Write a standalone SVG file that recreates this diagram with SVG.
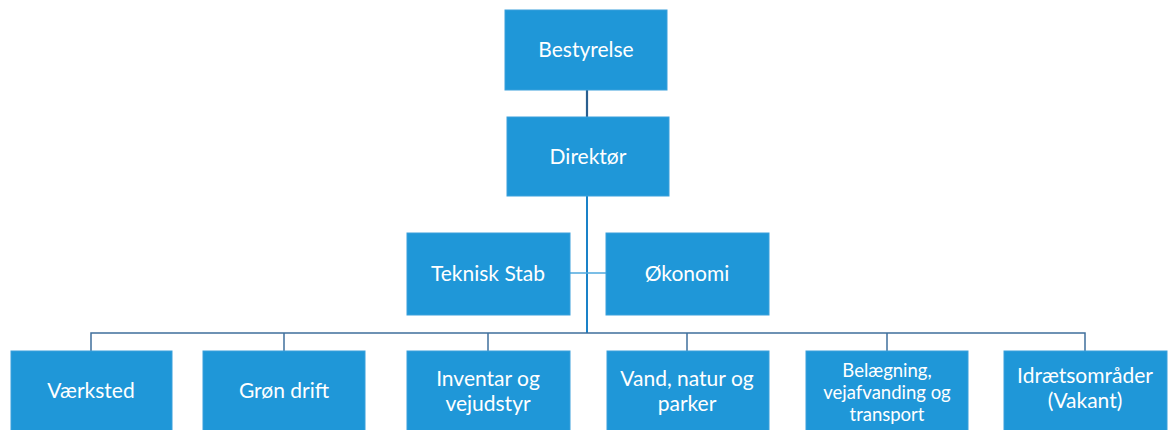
<svg xmlns="http://www.w3.org/2000/svg" width="1168" height="430" viewBox="0 0 1168 430">
<style>
.box{fill:#1f97d8;stroke:#3aa0dc;stroke-width:1}
.t{font-family:Lato,"Open Sans","Liberation Sans",sans-serif;font-size:21px;fill:#ffffff;text-anchor:middle}
.s{font-size:18.5px}
.bus{stroke:#3f6f9c;stroke-width:1.5;fill:none}
.main{stroke:#1a82c8;stroke-width:2;fill:none}
.side{stroke:#4fa8de;stroke-width:1.5;fill:none}
</style>
<rect width="1168" height="430" fill="#ffffff"/>
<g id="connectors">
<line class="bus" x1="587" y1="90" x2="587" y2="117" style="stroke:#2a5f8f;stroke-width:2.2"/>
<line class="main" x1="587" y1="196" x2="587" y2="333"/>
<line class="side" x1="570" y1="273" x2="606" y2="273"/>
<polyline class="bus" points="91,351 91,333 1085,333 1085,351"/>
<line class="bus" x1="284" y1="333" x2="284" y2="351"/>
<line class="bus" x1="488" y1="333" x2="488" y2="351"/>
<line class="bus" x1="687" y1="333" x2="687" y2="351"/>
<line class="bus" x1="887" y1="333" x2="887" y2="351"/>
</g>
<g id="bestyrelse"><rect class="box" x="505" y="10" width="162" height="80"/><text class="t" x="586" y="57">Bestyrelse</text></g>
<g id="direktor"><rect class="box" x="507" y="117" width="162" height="79"/><text class="t" x="588" y="164">Direktør</text></g>
<g id="teknisk-stab"><rect class="box" x="407" y="233" width="163" height="82"/><text class="t" x="488" y="281">Teknisk Stab</text></g>
<g id="okonomi"><rect class="box" x="606" y="233" width="163" height="82"/><text class="t" x="687" y="281">Økonomi</text></g>
<g id="vaerksted"><rect class="box" x="11" y="351" width="161" height="85"/><text class="t" x="91" y="398">Værksted</text></g>
<g id="gron-drift"><rect class="box" x="203" y="351" width="162" height="85"/><text class="t" x="284" y="398">Grøn drift</text></g>
<g id="inventar"><rect class="box" x="407" y="351" width="163" height="85"/><text class="t" x="488" y="386">Inventar og</text><text class="t" x="488" y="411">vejudstyr</text></g>
<g id="vand"><rect class="box" x="607" y="351" width="162" height="85"/><text class="t" x="687" y="386">Vand, natur og</text><text class="t" x="687" y="411">parker</text></g>
<g id="belaegning"><rect class="box" x="806" y="351" width="162" height="85"/><text class="t s" x="887" y="377">Belægning,</text><text class="t s" x="887" y="399">vejafvanding og</text><text class="t s" x="887" y="421">transport</text></g>
<g id="idraet"><rect class="box" x="1004" y="351" width="163" height="85"/><text class="t" x="1085" y="383">Idrætsområder</text><text class="t" x="1085" y="408">(Vakant)</text></g>
</svg>
